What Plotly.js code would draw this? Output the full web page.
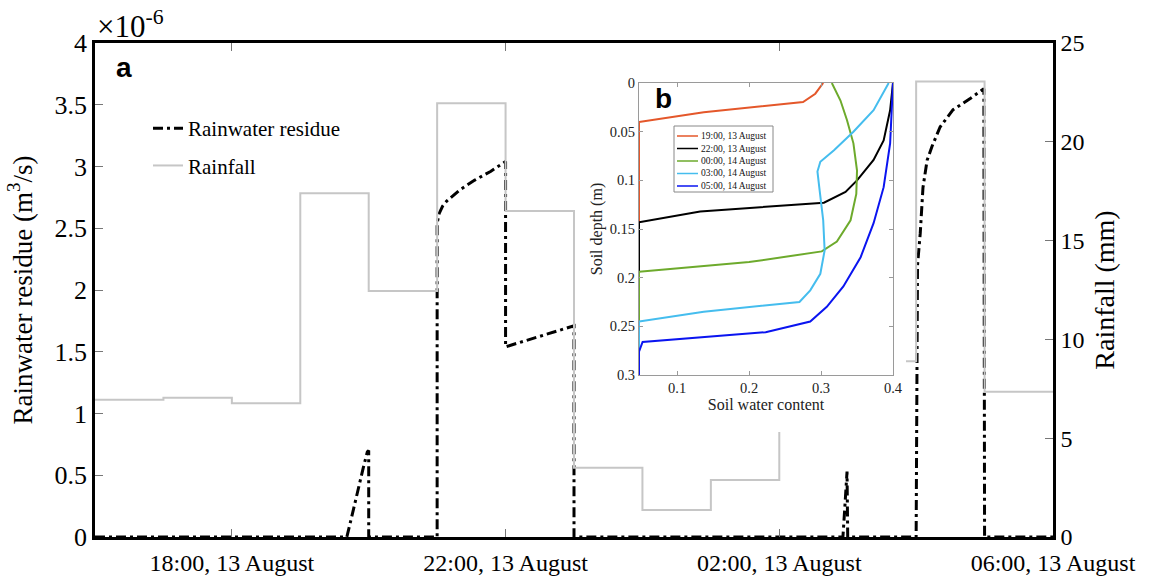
<!DOCTYPE html>
<html>
<head>
<meta charset="utf-8">
<script src="https://cdn.plot.ly/plotly-3.0.1.min.js"></script>
<style>html,body{margin:0;padding:0;background:#fff;}#chart{width:1151px;height:577px;}</style>
</head>
<body>
<div id="chart"></div>
<script>
// ---------- Main panel (a) data ----------
// time axis: hours after 16:00, 13 August
const tickHours = [2, 6, 10, 14];
const tickLabels = ["18:00, 13 August", "22:00, 13 August", "02:00, 13 August", "06:00, 13 August"];

// Rainwater residue (x10^-6 m3/s)
const residueHours = [0, 3.68, 3.75, 3.85, 3.92, 3.98, 4.0, 4.0, 5.0, 5.0, 5.03, 5.08, 5.14, 5.33, 5.55, 5.78, 6.0, 6.0, 7.0, 7.0,
  10.93, 10.96, 10.99, 11.0, 12.0, 12.02, 12.06, 12.10, 12.16, 12.23, 12.35, 12.54, 12.79, 12.99, 13.0, 14.0];
const residue = [0, 0, 0.16, 0.41, 0.56, 0.69, 0.70, 0, 0, 2.54, 2.62, 2.68, 2.72, 2.81, 2.89, 2.96, 3.04, 1.54, 1.71, 0,
  0, 0.26, 0.53, 0, 0, 2.2, 2.46, 2.83, 3.05, 3.16, 3.32, 3.46, 3.55, 3.63, 0, 0];

// Hourly rainfall (mm), hours starting 16:00 ... 05:00
const rainHours = [0, 1, 2, 3, 4, 5, 6, 7, 8, 9, 10, 11, 12, 13, 14];
const rainfall = [6.95, 7.05, 6.77, 17.4, 12.45, 21.95, 16.5, 3.5, 1.37, 2.88, 9.5, 8.9, 23.05, 7.35];

// ---------- Inset (b) data: soil water content vs depth ----------
const profileNames = ["19:00, 13 August", "22:00, 13 August", "00:00, 14 August", "03:00, 14 August", "05:00, 14 August"];
const profileColors = ["#E4572A", "#000000", "#6DAA2C", "#45BDEE", "#0A14F0"];
const swc1900 = [0.047, 0.047, 0.137, 0.275, 0.292, 0.303];
const dep1900 = [0.3, 0.040, 0.030, 0.0195, 0.011, 0];
const swc2200 = [0.047, 0.047, 0.132, 0.304, 0.334, 0.35, 0.373, 0.387, 0.396, 0.4];
const dep2200 = [0.3, 0.143, 0.132, 0.123, 0.112, 0.100, 0.079, 0.059, 0.028, 0];
const swc0000 = [0.047, 0.047, 0.2, 0.301, 0.322, 0.341, 0.349, 0.35, 0.345, 0.336, 0.327, 0.315];
const dep0000 = [0.3, 0.194, 0.184, 0.173, 0.163, 0.141, 0.114, 0.090, 0.062, 0.038, 0.018, 0];
const swc0300 = [0.047, 0.047, 0.137, 0.27, 0.285, 0.299, 0.305, 0.303, 0.298, 0.295, 0.299, 0.318, 0.345, 0.373, 0.394];
const dep0300 = [0.3, 0.245, 0.235, 0.225, 0.213, 0.196, 0.172, 0.141, 0.110, 0.091, 0.081, 0.069, 0.050, 0.028, 0];
const swc0500 = [0.047, 0.047, 0.052, 0.137, 0.223, 0.285, 0.308, 0.331, 0.355, 0.373, 0.387, 0.396, 0.4];
const dep0500 = [0.3, 0.276, 0.266, 0.261, 0.256, 0.245, 0.230, 0.209, 0.179, 0.144, 0.107, 0.062, 0];
const profilesX = [swc1900, swc2200, swc0000, swc0300, swc0500];
const profilesY = [dep1900, dep2200, dep0000, dep0300, dep0500];

// ---------- layout helpers (pixel -> paper) ----------
const PL = 95, PR = 1053, PT = 43, PB = 537;
const px = v => (v - PL) / (PR - PL);
const py = v => (PB - v) / (PB - PT);
const SERIF = "Liberation Serif, Times New Roman, serif";

const traces = [];
traces.push({
  x: residueHours, y: residue, type: "scatter", mode: "lines", name: "Rainwater residue",
  line: {color: "#000", width: 3, dash: "10px,4px,3px,4px"}, xaxis: "x", yaxis: "y",
  legendgroup: "g1", hoverinfo: "x+y"
});
traces.push({
  x: rainHours, y: rainfall.concat([rainfall[rainfall.length - 1]]), type: "scatter", mode: "lines", name: "Rainfall",
  line: {color: "#c6c6c6", width: 2, shape: "hv"}, xaxis: "x", yaxis: "y2",
  legendgroup: "g2"
});
// white panel behind inset
traces.push({
  x: [0, 1, 1, 0, 0], y: [0, 0, 1, 1, 0], type: "scatter", mode: "lines", fill: "toself",
  fillcolor: "#ffffff", line: {width: 0, color: "#ffffff"}, xaxis: "x2", yaxis: "y3",
  showlegend: false, hoverinfo: "skip"
});
for (let i = 0; i < profileNames.length; i++) {
  traces.push({
    x: profilesX[i], y: profilesY[i], type: "scatter", mode: "lines", name: profileNames[i],
    line: {color: profileColors[i], width: 2}, xaxis: "x3", yaxis: "y4", showlegend: false
  });
}

// inset legend (drawn manually to match compact box)
const legBox = {x0: 674, x1: 773, y0: 126, y1: 192};
const legRows = [136, 148.5, 161, 173.5, 186];
const shapes = [{
  type: "rect", xref: "paper", yref: "paper", layer: "above",
  x0: px(legBox.x0), x1: px(legBox.x1), y0: py(legBox.y1), y1: py(legBox.y0),
  fillcolor: "#fff", line: {color: "#888", width: 1}
}];
const annotations = [
  {xref: "paper", yref: "paper", x: px(95), y: py(25), xanchor: "left", yanchor: "middle", showarrow: false,
   text: "×10<sup>-6</sup>", font: {family: SERIF, size: 31, color: "#000"}},
  {xref: "paper", yref: "paper", x: px(124), y: py(67), xanchor: "center", yanchor: "middle", showarrow: false,
   text: "<b>a</b>", font: {family: "Liberation Sans, Arial, sans-serif", size: 28, color: "#000"}},
  {xref: "paper", yref: "paper", x: px(663), y: py(98), xanchor: "center", yanchor: "middle", showarrow: false,
   text: "<b>b</b>", font: {family: "Liberation Sans, Arial, sans-serif", size: 28, color: "#000"}}
];
for (let i = 0; i < profileNames.length; i++) {
  shapes.push({type: "line", xref: "paper", yref: "paper", layer: "above",
    x0: px(677), x1: px(698), y0: py(legRows[i]), y1: py(legRows[i]),
    line: {color: profileColors[i], width: 1.5}});
  annotations.push({xref: "paper", yref: "paper", x: px(699), y: py(legRows[i]), xanchor: "left", yanchor: "middle",
    showarrow: false, text: profileNames[i], font: {family: SERIF, size: 9.5, color: "#111"}});
}

const layout = {
  width: 1151, height: 577,
  margin: {l: PL, r: 1151 - PR, t: PT, b: 577 - PB, pad: 0},
  paper_bgcolor: "#fff", plot_bgcolor: "#fff",
  font: {family: SERIF, color: "#000"},
  showlegend: true,
  legend: {x: px(148), y: py(108), xanchor: "left", yanchor: "top", bgcolor: "rgba(0,0,0,0)",
    font: {family: SERIF, size: 21, color: "#000"}, tracegroupgap: 7, borderwidth: 0},
  xaxis: {domain: [0, 1], range: [0, 14], anchor: "y", tickvals: tickHours, ticktext: tickLabels,
    showline: true, linecolor: "#000", linewidth: 2.5, mirror: "ticks", ticks: "inside", ticklen: 8,
    tickcolor: "#777", tickwidth: 1, showgrid: false, zeroline: false, ticklabelstandoff: 2,
    tickfont: {family: SERIF, size: 24, color: "#000"}},
  yaxis: {domain: [0, 1], range: [0, 4], dtick: 0.5, anchor: "x", showline: true, linecolor: "#000", linewidth: 2.5,
    ticks: "inside", ticklen: 8, tickcolor: "#777", tickwidth: 1, showgrid: false, zeroline: false,
    tickfont: {family: SERIF, size: 26, color: "#000"},
    title: {text: "Rainwater residue (m<sup>3</sup>/s)", font: {family: SERIF, size: 27, color: "#000"}, standoff: 15}},
  yaxis2: {overlaying: "y", side: "right", anchor: "x", range: [0, 25], dtick: 5, showline: true, linecolor: "#000",
    linewidth: 2.5, ticks: "inside", ticklen: 8, tickcolor: "#777", tickwidth: 1, showgrid: false, zeroline: false,
    tickfont: {family: SERIF, size: 24, color: "#000"},
    title: {text: "Rainfall (mm)", font: {family: SERIF, size: 28, color: "#000"}, standoff: 11}},
  xaxis2: {domain: [px(578), px(906)], range: [0, 1], anchor: "y3", visible: false, fixedrange: true},
  yaxis3: {domain: [py(432), py(64)], range: [0, 1], anchor: "x2", visible: false, fixedrange: true},
  xaxis3: {domain: [px(639), px(893)], range: [0.047, 0.4], anchor: "y4", tickvals: [0.1, 0.2, 0.3, 0.4],
    showline: true, linecolor: "#9a9a9a", linewidth: 1, mirror: "ticks", ticks: "inside", ticklen: 4,
    tickcolor: "#9a9a9a", showgrid: false, zeroline: false,
    tickfont: {family: SERIF, size: 14.5, color: "#222"},
    title: {text: "Soil water content", font: {family: SERIF, size: 16, color: "#222"}, standoff: 1}},
  yaxis4: {domain: [py(375), py(83)], range: [0.3, 0], anchor: "x3", dtick: 0.05,
    showline: true, linecolor: "#9a9a9a", linewidth: 1, mirror: "ticks", ticks: "inside", ticklen: 4,
    tickcolor: "#9a9a9a", showgrid: false, zeroline: false,
    tickfont: {family: SERIF, size: 14.5, color: "#222"},
    title: {text: "Soil depth (m)", font: {family: SERIF, size: 16, color: "#222"}, standoff: 3}},
  shapes: shapes,
  annotations: annotations
};

Plotly.newPlot("chart", traces, layout, {displayModeBar: false, responsive: false});
</script>
</body>
</html>
